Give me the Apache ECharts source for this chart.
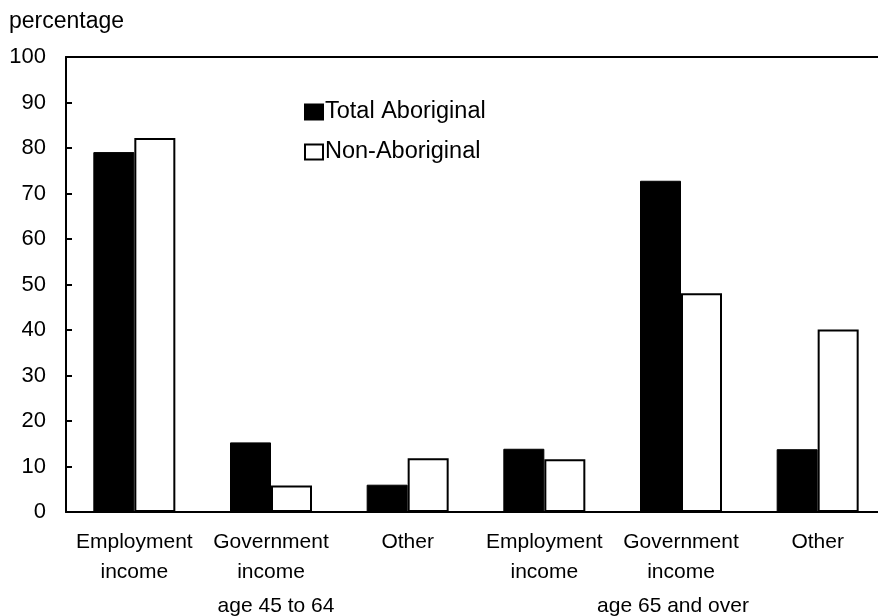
<!DOCTYPE html>
<html style="height: 100%">
<head>
  <meta charset="utf-8">
  <title>Income sources by age group</title>
  <script src="https://cdn.jsdelivr.net/npm/echarts@6/dist/echarts.min.js"></script>
</head>
<body style="height: 100%; margin: 0">
  <div id="main" style="width: 878px; height: 616px"></div>
  <script type="text/javascript">
    var categories = ['Employment\nincome', 'Government\nincome', 'Other',
                      'Employment\nincome', 'Government\nincome', 'Other'];
    var groups = ['age 45 to 64', 'age 65 and over'];
    var aboriginal = [79.1, 15.3, 6.0, 13.9, 72.8, 13.8];
    var nonAboriginal = [82.2, 5.8, 11.8, 11.6, 48.1, 40.1];

    var font = 'Liberation Sans, Arial, sans-serif';

    var option = {
      animation: false,
      textStyle: { fontFamily: font, color: '#000' },
      grid: { left: 66, top: 57, width: 820, bottom: 104, outerBoundsMode: 'none', containLabel: false },
      legend: {
        orient: 'vertical',
        left: 299,
        top: 95,
        icon: 'rect',
        itemWidth: 18,
        itemHeight: 15,
        itemGap: 16,
        textStyle: { fontSize: 23.5, color: '#000', fontFamily: font, padding: [0, 0, 0, -3] },
        data: ['Total Aboriginal', 'Non-Aboriginal']
      },
      xAxis: [
        {
          type: 'category',
          position: 'bottom',
          data: categories,
          axisLine: { lineStyle: { color: '#000', width: 2 } },
          axisTick: { show: false },
          axisLabel: { fontSize: 21, color: '#000', margin: 15, lineHeight: 30, interval: 0 }
        },
        {
          type: 'category',
          position: 'bottom',
          data: groups,
          axisLine: { show: false },
          axisTick: { show: false },
          axisLabel: {
            fontSize: 21,
            color: '#000',
            margin: 84,
            formatter: function (value, idx) {
              return idx === 0 ? '{a|' + value + '}' : '{b|' + value + '}';
            },
            rich: {
              a: { fontSize: 21, color: '#000', padding: [0, 0, 0, 10] },
              b: { fontSize: 21, color: '#000', padding: [0, 16, 0, 0] }
            }
          }
        },
        {
          type: 'category',
          position: 'top',
          data: groups,
          axisLine: { lineStyle: { color: '#000', width: 2 } },
          axisTick: { show: false },
          axisLabel: { show: false }
        }
      ],
      yAxis: {
        type: 'value',
        min: 0,
        max: 100,
        interval: 10,
        name: 'percentage',
        nameLocation: 'end',
        nameGap: 24,
        nameTextStyle: { fontSize: 23, color: '#000', align: 'left', padding: [0, 0, 0, -57] },
        axisLine: { show: true, lineStyle: { color: '#000', width: 2 } },
        axisTick: { show: true, inside: true, length: 6, lineStyle: { color: '#000', width: 2 } },
        axisLabel: { fontSize: 22, color: '#000', margin: 20 },
        splitLine: { show: false }
      },
      series: [
        {
          name: 'Total Aboriginal',
          type: 'bar',
          xAxisIndex: 0,
          barGap: '0%',
          barCategoryGap: '40%',
          itemStyle: { color: '#000', borderColor: '#000', borderWidth: 1 },
          data: aboriginal
        },
        {
          name: 'Non-Aboriginal',
          type: 'bar',
          xAxisIndex: 0,
          itemStyle: { color: '#fff', borderColor: '#000', borderWidth: 2 },
          data: nonAboriginal
        }
      ]
    };

    var chart = echarts.init(document.getElementById('main'));
    chart.setOption(option);
  </script>
</body>
</html>
